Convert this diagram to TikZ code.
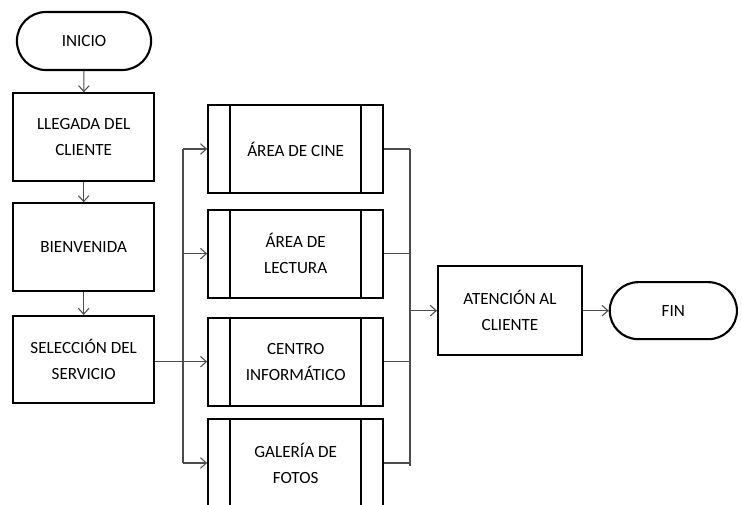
\documentclass[tikz,border=0pt]{standalone}
\usepackage{fontspec}
\setmainfont{Carlito}
\usepackage{tikz}
\usetikzlibrary{arrows.meta,shapes.misc,calc}

\begin{document}
\begin{tikzpicture}[
  every node/.style={font=\fontsize{14.6}{22.2}\selectfont, align=center, text=black},
  term/.style={draw, line width=1.8pt, rounded rectangle, minimum width=4.26cm, minimum height=1.74cm},
  proc/.style={draw, line width=1.8pt, minimum width=4.23cm, minimum height=2.62cm},
  subproc/.style={draw, line width=1.8pt, minimum width=5.25cm, minimum height=2.64cm,
    path picture={\draw[line width=1.4pt]
      ([xshift=0.66cm]path picture bounding box.north west) -- ([xshift=0.66cm]path picture bounding box.south west)
      ([xshift=-0.66cm]path picture bounding box.north east) -- ([xshift=-0.66cm]path picture bounding box.south east);}},
  arr/.style={-{Straight Barb[length=5pt,width=9pt]}, line width=0.9pt, draw=black!70},
  ln/.style={line width=0.9pt, draw=black!70}
]
\useasboundingbox (0,0) rectangle (22.26,-15.12);
\node[term] (inicio) at (2.52,-1.23) {INICIO};
\node[proc] (llegada) at (2.51,-4.11) {LLEGADA DEL\\CLIENTE};
\node[proc] (bienvenida) at (2.51,-7.41) {BIENVENIDA};
\node[proc] (seleccion) at (2.51,-10.79) {SELECCIÓN DEL\\SERVICIO};
\node[subproc] (cine) at (8.87,-4.47) {ÁREA DE CINE};
\node[subproc] (lectura) at (8.87,-7.61) {ÁREA DE\\LECTURA};
\node[subproc] (centro) at (8.87,-10.85) {CENTRO\\INFORMÁTICO};
\node[subproc] (galeria) at (8.87,-13.89) {GALERÍA DE\\FOTOS};
\node[proc, minimum width=4.32cm, minimum height=2.67cm] (atencion) at (15.3,-9.32) {ATENCIÓN AL\\CLIENTE};
\node[term, minimum width=4.05cm, minimum height=1.71cm] (fin) at (20.2,-9.32) {FIN};
\coordinate (split) at (5.49,0);
\coordinate (merge) at (12.3,0);
% main line
\draw[arr] (inicio) -- (llegada);
\draw[arr] (llegada) -- (bienvenida);
\draw[arr] (bienvenida) -- (seleccion);
% branches to the services
\draw[arr] (seleccion.east |- centro.west) -- (centro.west);
\draw[ln] (split |- cine.west) -- (split |- galeria.west);
\draw[arr] (split |- cine.west) -- (cine.west);
\draw[arr] (split |- lectura.west) -- (lectura.west);
\draw[arr] (split |- galeria.west) -- (galeria.west);
% back together
\draw[ln] (cine.east) -- (merge |- cine.east);
\draw[ln] (lectura.east) -- (merge |- lectura.east);
\draw[ln] (centro.east) -- (merge |- centro.east);
\draw[ln] (galeria.east) -- (merge |- galeria.east);
\draw[ln] (merge |- cine.east) -- ($(merge |- galeria.east)+(0,-0.1)$);
\draw[arr] (merge |- atencion.west) -- (atencion.west);
\draw[arr] (atencion) -- (fin);
\end{tikzpicture}
\end{document}
